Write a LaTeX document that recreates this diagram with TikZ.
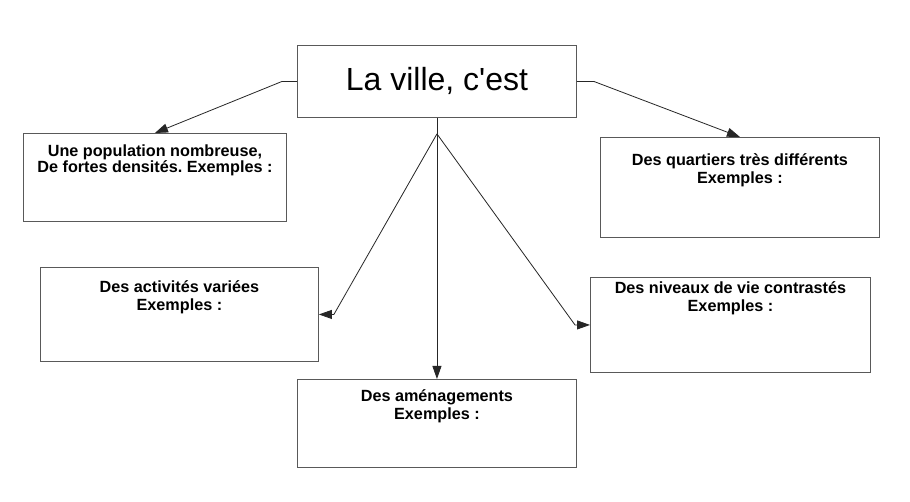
\documentclass[tikz,border=0pt]{standalone}
\usepackage{fontspec}
\setmainfont{Liberation Sans}
\usetikzlibrary{arrows.meta,calc}
\frenchspacing
\newcommand{\boxcontent}[4]{\parbox[c][#2][t]{#1}{\centering\rule{0pt}{#3}#4}}
\tikzset{
  box/.style={draw=black!65, line width=0.9pt, inner sep=0pt, anchor=north west,
    font=\fontsize{16.2}{18.5}\bfseries\selectfont},
  mainbox/.style={draw=black!65, line width=0.9pt, inner sep=0pt, anchor=north west,
    minimum width=279pt, minimum height=72pt, font=\fontsize{32}{36}\selectfont},
  conn/.style={draw=black!85, line width=0.8pt, -{Triangle[length=13pt,width=9pt]}},
  plain/.style={draw=black!85, line width=0.8pt}
}
\begin{document}
\begin{tikzpicture}[x=1pt,y=-1pt]
\useasboundingbox[fill=white] (0,0) rectangle (910,502);
\node[mainbox] (main) at (297,45) {La ville, c\textquotesingle est};
\node[box, font=\fontsize{16.2}{16.5}\bfseries\selectfont] (b1) at (23,133)
  {\boxcontent{263pt}{88pt}{23pt}{Une population nombreuse,\\De fortes densités. Exemples :}};
\node[box] (b2) at (600,137)
  {\boxcontent{279pt}{100pt}{28pt}{Des quartiers très différents\\Exemples :}};
\node[box] (b3) at (40,267)
  {\boxcontent{278pt}{94pt}{25pt}{Des activités variées\\Exemples :}};
\node[box] (b4) at (590,277)
  {\boxcontent{280pt}{95pt}{16pt}{Des niveaux de vie contrastés\\Exemples :}};
\node[box] (b5) at (297,379)
  {\boxcontent{279pt}{88pt}{22pt}{Des aménagements\\Exemples :}};
\coordinate (br) at ($(main.south)+(0,16)$);
\coordinate (lk) at ($(main.west)+(-15,0)$);
\coordinate (rk) at ($(main.east)+(17,0)$);
\coordinate (b3k) at ($(b3.east)+(15,0)$);
\coordinate (b4k) at ($(b4.west)+(-15,0)$);
\draw[conn] (main.west) -- (lk) -- (b1.north);
\draw[conn] (main.east) -- (rk) -- (b2.north);
\draw[conn] (main.south) -- (b5.north);
\draw[conn] (br) -- (b3k) -- (b3.east);
\draw[conn] (br) -- (b4k) -- (b4.west);
\end{tikzpicture}
\end{document}
